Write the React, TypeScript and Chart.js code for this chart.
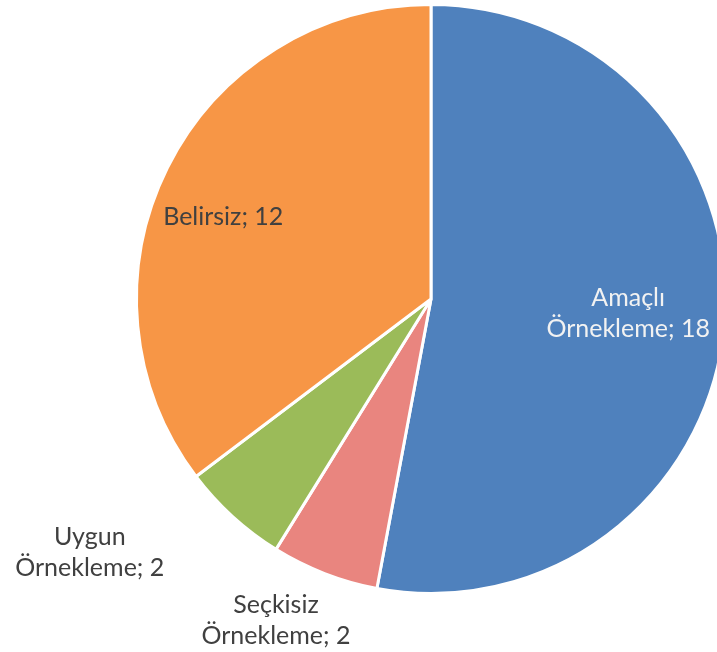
import React, { useEffect, useRef } from "react";
import { Chart, registerables } from "chart.js";

Chart.register(...registerables);

const categories = ["Amaçlı Örnekleme", "Seçkisiz Örnekleme", "Uygun Örnekleme", "Belirsiz"];
const values = [18, 2, 2, 12];
const labelLines = [["Amaçlı", "Örnekleme; 18"], ["Seçkisiz", "Örnekleme; 2"], ["Uygun", "Örnekleme; 2"], ["Belirsiz; 12"]];
const colors = ["#4F81BD", "#E9857F", "#9BBB59", "#F79646"];

const labelStyle = [
  { factor: 0.72, dx: -14, dy: -5, color: "#F2F2F2" },
  { factor: 1.1, dx: -38, dy: 19, color: "#404040" },
  { factor: 1.1, dx: -123, dy: 14, color: "#404040" },
  { factor: 0.75, dx: -10, dy: 16, color: "#404040" },
];

const FONT = "25px Lato";
const LINE_H = 31;

const labelPlugin = {
  id: "sliceLabels",
  afterDatasetsDraw(chart: any) {
    const ctx = chart.ctx;
    const meta = chart.getDatasetMeta(0);
    ctx.save();
    ctx.font = FONT;
    ctx.textAlign = "center";
    ctx.textBaseline = "middle";
    meta.data.forEach((arc: any, i: number) => {
      const st = labelStyle[i];
      const mid = (arc.startAngle + arc.endAngle) / 2;
      const r = arc.outerRadius * st.factor;
      const cx = arc.x + Math.cos(mid) * r + st.dx;
      const cy = arc.y + Math.sin(mid) * r + st.dy;
      const lines = labelLines[i];
      ctx.fillStyle = st.color;
      lines.forEach((ln: string, j: number) => {
        const y = cy + (j - (lines.length - 1) / 2) * LINE_H;
        ctx.fillText(ln, cx, y);
      });
    });
    ctx.restore();
  },
};

export default function App() {
  const ref = useRef<HTMLCanvasElement | null>(null);
  useEffect(() => {
    if (!ref.current) return;
    const chart = new Chart(ref.current, {
      type: "pie",
      data: {
        labels: categories,
        datasets: [
          {
            data: values,
            backgroundColor: colors,
            borderColor: "#FFFFFF",
            borderWidth: 3,
          },
        ],
      },
      options: {
        responsive: false,
        animation: false,
        layout: { padding: { top: 3, bottom: 57, left: 0, right: 0 } },
        plugins: {
          legend: { display: false },
          tooltip: { enabled: false },
        },
      },
      plugins: [labelPlugin],
    });
    return () => chart.destroy();
  }, []);
  return (
    <div style={{ position: "absolute", left: 0, top: 0, width: 717, height: 652, overflow: "hidden", background: "#fff" }}>
      <canvas ref={ref} width={862} height={652} style={{ width: 862, height: 652, display: "block" }} />
    </div>
  );
}
